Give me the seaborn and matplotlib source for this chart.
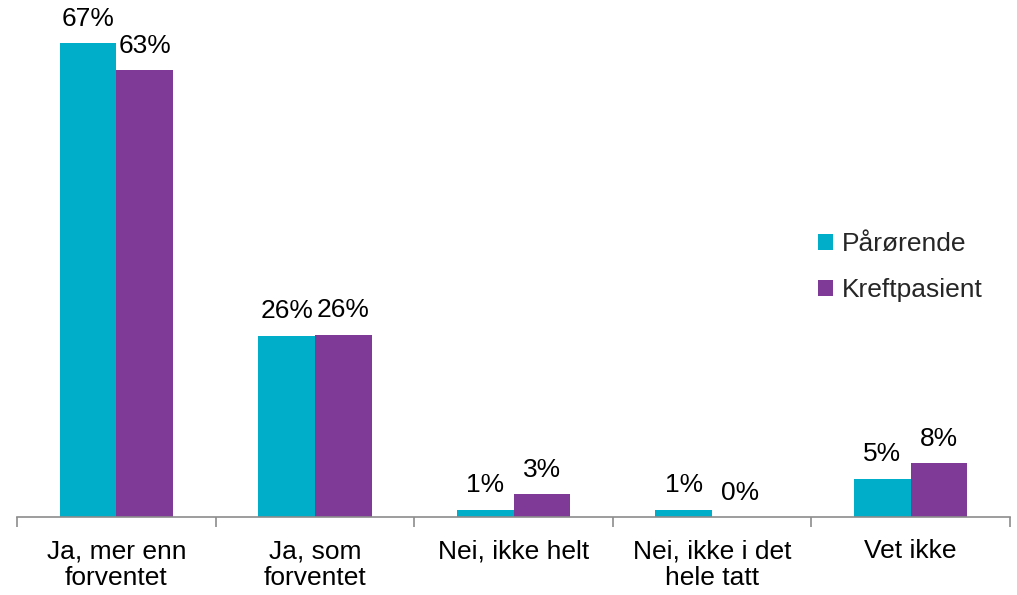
import matplotlib
matplotlib.use("Agg")
import matplotlib.pyplot as plt
import seaborn as sns
import pandas as pd
import numpy as np

categories = ["Ja, mer enn\nforventet", "Ja, som\nforventet", "Nei, ikke helt",
              "Nei, ikke i det\nhele tatt", "Vet ikke"]
series_names = ["Pårørende", "Kreftpasient"]
paarorende = [67.0, 25.6, 1.0, 1.0, 5.4]
kreftpasient = [63.2, 25.8, 3.2, 0.0, 7.6]
colors = ["#00AECA", "#7F3A98"]

df = pd.DataFrame({
    "Kategori": categories * 2,
    "Gruppe": [series_names[0]] * 5 + [series_names[1]] * 5,
    "Verdi": paarorende + kreftpasient,
})

sns.set_theme(style="white")
plt.rcParams["font.family"] = ["Liberation Sans", "DejaVu Sans"]

fig = plt.figure(figsize=(10.17, 5.95), dpi=100)
ax = fig.add_axes([17 / 1017, 78 / 595, (1010 - 17) / 1017, 495 / 595])

sns.barplot(data=df, x="Kategori", y="Verdi", hue="Gruppe", order=categories,
            hue_order=series_names, palette=colors, width=0.57, gap=0,
            saturation=1, linewidth=0, ax=ax, legend=True)

ax.set_xlim(-0.5, 4.5)
ax.set_ylim(0, 70)
ax.set_xlabel("")
ax.set_ylabel("")
ax.set_yticks([])
for s in ["top", "right", "left"]:
    ax.spines[s].set_visible(False)
ax.spines["bottom"].set_color("#8C8C8C")
ax.spines["bottom"].set_linewidth(1.2)

ax.set_xticks(range(5))
ax.set_xticklabels(categories, fontsize=19, linespacing=1.17)
ax.tick_params(axis="x", which="major", length=0, pad=16, colors="black")
ax.set_xticks(np.arange(-0.5, 5.0, 1.0), minor=True)
ax.tick_params(axis="x", which="minor", length=7, width=1.2, color="#8C8C8C", bottom=True)

for container in ax.containers:
    labels = [f"{round(b.get_height()):.0f}%" for b in container]
    ax.bar_label(container, labels=labels, fontsize=19, padding=9, color="black")

handles, lbls = ax.get_legend_handles_labels()
ax.legend(handles, lbls, loc="upper left", bbox_to_anchor=(0.781, 0.65),
          bbox_transform=fig.transFigure, frameon=False, fontsize=19,
          handlelength=0.55, handleheight=0.55, handletextpad=0.35, labelspacing=0.85)

fig.savefig("out.png", dpi=100)
